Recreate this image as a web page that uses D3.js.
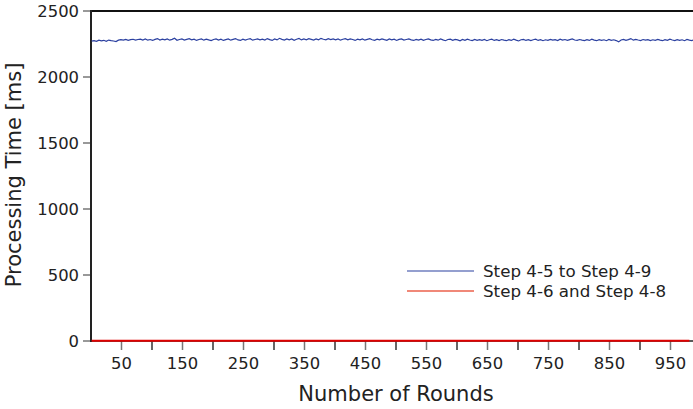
<!DOCTYPE html>
<html><head><meta charset="utf-8">
<script src="https://cdn.jsdelivr.net/npm/d3@7"></script>
<style>html,body{margin:0;padding:0;background:#fff;overflow:hidden}</style>
</head><body>
<svg id="c" width="693" height="409"></svg>
<script>
const seriesNames = ["Step 4-5 to Step 4-9", "Step 4-6 and Step 4-8"];
const xTickLabels = [50,150,250,350,450,550,650,750,850,950];
const xMinorTicks = [100,200,300,400,500,600,700,800,900];
const yTicks = [0,500,1000,1500,2000,2500];
const blueRounds = d3.range(1, 1001, 4);
const blueValues = [
2272,2276,2270,2279,2274,2278,2271,2280,2276,2273,
2268,2279,2283,2279,2285,2278,2283,2286,2279,2284,
2287,2280,2288,2279,2284,2277,2285,2291,2280,2286,
2281,2289,2279,2285,2294,2278,2284,2288,2280,2285,
2290,2281,2286,2277,2284,2289,2279,2287,2281,2276,
2284,2288,2280,2286,2277,2283,2288,2279,2285,2291,
2281,2277,2287,2280,2286,2290,2279,2284,2288,2281,
2287,2280,2291,2283,2277,2288,2281,2293,2285,2280,
2289,2282,2288,2278,2286,2292,2281,2288,2282,2290,
2285,2280,2289,2282,2293,2286,2281,2290,2284,2288,
2282,2289,2279,2286,2290,2281,2288,2284,2277,2286,
2281,2288,2279,2285,2290,2282,2278,2286,2281,2289,
2283,2278,2288,2281,2286,2277,2285,2289,2280,2284,
2288,2281,2277,2285,2279,2287,2278,2284,2289,2281,
2277,2285,2279,2288,2281,2275,2284,2287,2278,2285,
2281,2274,2284,2278,2287,2280,2276,2285,2278,2283,
2277,2284,2275,2282,2286,2277,2283,2276,2284,2279,
2275,2283,2277,2286,2279,2273,2282,2285,2277,2283,
2276,2282,2286,2277,2283,2275,2282,2278,2285,2279,
2283,2276,2287,2279,2284,2277,2283,2288,2280,2277,
2284,2279,2276,2283,2277,2286,2279,2275,2283,2278,
2282,2275,2285,2278,2282,2276,2266,2280,2285,2278,
2283,2291,2279,2285,2280,2276,2284,2279,2283,2276,
2282,2278,2285,2279,2275,2283,2278,2286,2280,2276,
2283,2278,2282,2275,2284,2279,2276,2283,2278,2281];
const redRounds = d3.range(1, 1001, 20);
const redValues = [
1,2,1,2,1,1,2,1,2,1,
1,2,1,1,2,1,2,1,1,2,
1,2,1,2,1,2,1,1,2,1,
2,1,2,1,1,2,1,2,1,1,
2,1,2,1,2,1,1,2,1,2];

const svg = d3.select("#c");
const x = d3.scaleLinear().domain([0, 1000]).range([91, 701]);
const y = d3.scaleLinear().domain([0, 2500]).range([341, 11]);
const font = "DejaVu Sans, sans-serif";

svg.append("defs").append("clipPath").attr("id","plot")
  .append("rect").attr("x",91).attr("y",11).attr("width",610).attr("height",332);

// Y axis ticks and labels
const gy = svg.append("g");
yTicks.forEach(t => {
  gy.append("line").attr("x1",83).attr("x2",91).attr("y1",y(t)).attr("y2",y(t))
    .attr("stroke","#777").attr("stroke-width",1.5);
  gy.append("text").attr("x",79).attr("y",y(t)).attr("dy","0.36em")
    .attr("text-anchor","end").attr("font-family",font).attr("font-size",16.4)
    .attr("fill","#222").text(t);
});
// X axis ticks
const gx = svg.append("g");
xTickLabels.forEach(t => {
  gx.append("line").attr("x1",x(t)).attr("x2",x(t)).attr("y1",341).attr("y2",350)
    .attr("stroke","#777").attr("stroke-width",1.5);
  gx.append("text").attr("x",x(t)).attr("y",369).attr("text-anchor","middle")
    .attr("font-family",font).attr("font-size",16.4).attr("fill","#222").text(t);
});
xMinorTicks.forEach(t => {
  gx.append("line").attr("x1",x(t)).attr("x2",x(t)).attr("y1",341).attr("y2",350)
    .attr("stroke","#333").attr("stroke-width",1.5);
});

// Frame
svg.append("line").attr("x1",91).attr("x2",701).attr("y1",11).attr("y2",11)
  .attr("stroke","#111").attr("stroke-width",2);
svg.append("line").attr("x1",91).attr("x2",91).attr("y1",10).attr("y2",342)
  .attr("stroke","#222").attr("stroke-width",2);
svg.append("line").attr("x1",91).attr("x2",701).attr("y1",341).attr("y2",341)
  .attr("stroke","#222").attr("stroke-width",1.5);

// Lines
const line = d3.line().x(d => x(d[0])).y(d => y(d[1]));
const pg = svg.append("g").attr("clip-path","url(#plot)");
pg.append("path").datum(blueRounds.map((r,i)=>[r, blueValues[i]]))
  .attr("d", line).attr("fill","none").attr("stroke","#2b40a0").attr("stroke-width",1.2);
pg.append("path").datum(redRounds.map((r,i)=>[r, redValues[i]]))
  .attr("d", line).attr("fill","none").attr("stroke","#e00000").attr("stroke-width",2);

// Legend
const legendColors = ["#2b40a0", "#f08878"];
const legendWidths = [1.2, 2];
seriesNames.forEach((n,i) => {
  const ly = 271 + i*20;
  svg.append("line").attr("x1",407).attr("x2",474).attr("y1",ly).attr("y2",ly)
    .attr("stroke",legendColors[i]).attr("stroke-width",legendWidths[i]);
  svg.append("text").attr("x",483).attr("y",ly).attr("dy","0.36em")
    .attr("font-family",font).attr("font-size",16.7).attr("fill","#222").text(n);
});

// Axis titles
svg.append("text").attr("x",396).attr("y",401).attr("text-anchor","middle")
  .attr("font-family",font).attr("font-size",21).attr("fill","#222").text("Number of Rounds");
svg.append("text").attr("transform","translate(21,175) rotate(-90)")
  .attr("text-anchor","middle").attr("font-family",font).attr("font-size",21)
  .attr("fill","#222").text("Processing Time [ms]");
</script>
</body></html>
